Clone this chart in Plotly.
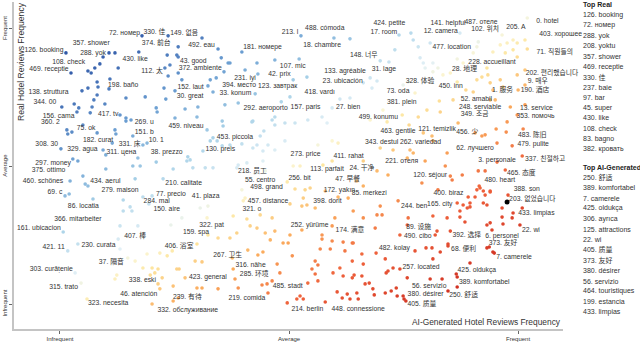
import plotly.graph_objects as go
import numpy as np

# term points (x = AI-generated frequency rank, y = real frequency rank), grouped by area
real_side_pts = [
    (0.179,0.975),(0.236,0.975),(0.013,0.913),(0.094,0.898),(0.107,0.913),(0.120,0.913),(0.172,0.916),(0.234,0.905),
    (0.255,0.905),(0.127,0.858),(0.061,0.847),(0.068,0.840),(0.076,0.858),(0.087,0.873),(0.024,0.840),(0.229,0.858),
    (0.240,0.869),(0.258,0.840),(0.236,0.829),(0.109,0.818),(0.081,0.807),(0.083,0.789),(0.061,0.785),(0.048,0.775),
    (0.107,0.782),(0.144,0.749),(0.186,0.753),(0.231,0.745),(0.227,0.785),(0.251,0.775),(0.081,0.760),(0.074,0.742),
    (0.098,0.727),(0.031,0.727),(0.041,0.713),(0.037,0.698),(0.070,0.716),(0.066,0.695),(0.004,0.716),(0.131,0.687),
    (0.210,0.713),(0.212,0.698),(0.251,0.676),(0.144,0.676),(0.155,0.669),
    (0.015,0.633),(0.017,0.618),(0.026,0.625),(0.050,0.651),(0.081,0.622),(0.120,0.633),(0.122,0.618),(0.114,0.585),
    (0.094,0.560),(0.100,0.542),(0.144,0.665),(0.159,0.611),(0.181,0.578),(0.190,0.585),(0.170,0.531),(0.159,0.502),
    (0.175,0.502),(0.210,0.516),(0.247,0.491),(0.002,0.564),(0.028,0.527),(0.039,0.520),(0.100,0.491),(0.050,0.465),
    (0.022,0.447),(0.055,0.436),(0.061,0.429),(0.164,0.455),(0.011,0.393),(0.020,0.400),(0.072,0.382),(0.138,0.378),
    (0.153,0.353),(0.157,0.338),(0.138,0.338),(0.181,0.389),(0.194,0.364),(0.225,0.455),(0.201,0.393),(0.007,0.262),
    (0.242,0.287),(0.131,0.284),(0.170,0.284),
]
upper_mid_pts = [
    (0.310,0.967),(0.345,0.927),(0.397,0.916),(0.258,0.935),(0.258,0.898),(0.352,0.895),(0.367,0.876),(0.371,0.876),
    (0.358,0.844),(0.404,0.851),(0.430,0.876),(0.469,0.887),(0.522,0.891),(0.509,0.815),(0.539,0.825),(0.432,0.836),
    (0.328,0.815),(0.341,0.822),(0.266,0.815),(0.323,0.793),(0.334,0.771),(0.426,0.764),(0.502,0.753),(0.483,0.735),
    (0.469,0.680),(0.541,0.669),(0.572,0.680),(0.594,0.713),(0.611,0.745),(0.633,0.749),(0.273,0.709),(0.301,0.716),
    (0.299,0.680),(0.360,0.724),(0.389,0.731),(0.419,0.662),(0.463,0.669),(0.526,0.975),(0.598,0.967),(0.633,0.964),
]
top_right_pts = [
    (1.020,1.040),(0.740,0.978),(0.766,0.985),(0.771,0.960),(0.873,0.985),(0.808,0.949),(0.782,0.935),(0.731,0.924),
    (0.718,0.880),(0.699,0.884),(0.786,0.895),(0.793,0.876),(0.814,0.876),(0.825,0.858),(0.797,0.858),(0.814,0.844),
    (0.677,0.822),(0.692,0.811),(0.662,0.804),(0.681,0.785),(0.749,0.796),(0.760,0.807),(0.775,0.767),(0.913,0.953),
    (0.910,0.935),(0.902,0.913),(0.954,1.004),(0.965,0.978),(0.961,0.942),(0.976,0.949),(0.998,0.949),(0.989,0.960),
    (1.015,0.960),(0.945,0.916),(0.972,0.913),(0.989,0.924),(0.998,0.898),(1.020,0.927),(0.910,0.815),(0.921,0.825),
    (0.902,0.771),(0.886,0.778),(0.867,0.807),(0.852,0.840),(0.836,0.833),(0.932,0.858),(0.934,0.833),(0.939,0.804),
    (0.961,0.815),(0.967,0.789),(0.998,0.833),(1.015,0.851),(1.015,0.796),(1.000,0.778),(0.945,0.778),(0.939,0.742),
    (0.950,0.742),(0.828,0.738),(0.801,0.705),(0.830,0.698),(0.858,0.742),(0.747,0.687),(0.782,0.680),(0.705,0.705),
    (0.983,0.716),(0.998,0.687),(0.976,0.662),(1.015,0.724),(0.867,0.891),(0.880,0.876),
]
middle_pts = [
    (0.354,0.665),(0.356,0.647),(0.421,0.665),(0.469,0.651),(0.491,0.658),(0.513,0.658),(0.583,0.658),(0.321,0.633),
    (0.334,0.604),(0.328,0.593),(0.343,0.593),(0.371,0.578),(0.397,0.582),(0.354,0.575),(0.445,0.629),(0.437,0.611),
    (0.430,0.578),(0.421,0.567),(0.454,0.578),(0.491,0.593),(0.469,0.560),(0.443,0.556),(0.312,0.556),(0.277,0.520),
    (0.284,0.524),(0.279,0.535),(0.317,0.495),(0.290,0.495),(0.334,0.495),(0.389,0.505),(0.386,0.495),(0.408,0.513),
    (0.443,0.520),(0.509,0.502),(0.524,0.502),(0.594,0.520),(0.607,0.585),(0.594,0.593),(0.563,0.578),(0.574,0.505),
    (0.448,0.484),(0.426,0.476),(0.397,0.415),(0.404,0.385),(0.400,0.375),(0.496,0.444),(0.513,0.418),(0.535,0.415),
    (0.546,0.422),(0.502,0.364),(0.528,0.356),(0.539,0.360),(0.557,0.349),(0.531,0.385),(0.579,0.411),(0.607,0.389),
    (0.629,0.385),(0.600,0.313),(0.594,0.284),(0.572,0.251),(0.528,0.269),(0.502,0.251),(0.469,0.265),(0.463,0.313),
    (0.448,0.258),(0.430,0.276),(0.437,0.324),(0.408,0.309),(0.415,0.284),(0.378,0.320),(0.323,0.356),(0.306,0.349),
    (0.266,0.313),(0.321,0.313),(0.345,0.240),(0.386,0.258),(0.323,0.251),
]
right_mid_pts = [
    (0.677,0.669),(0.714,0.662),(0.762,0.651),(0.793,0.622),(0.812,0.611),(0.814,0.593),(0.869,0.658),(0.906,0.622),
    (0.921,0.611),(0.928,0.615),(0.952,0.636),(0.974,0.625),(1.011,0.636),(0.954,0.585),(0.987,0.575),(0.845,0.549),
    (0.841,0.502),(0.797,0.520),(0.758,0.531),(0.699,0.567),(0.727,0.560),(0.771,0.549),(0.764,0.560),(0.662,0.520),
    (0.692,0.484),(0.716,0.469),(0.662,0.429),(0.648,0.447),(0.852,0.465),(0.856,0.451),(0.878,0.469),(0.790,0.440),
    (0.825,0.415),(0.913,0.484),(0.928,0.484),(0.972,0.487),(1.009,0.538),(0.954,0.516),(0.978,0.396),(0.910,0.415),
    (0.917,0.422),(0.924,0.411),(0.891,0.389),(0.895,0.367),(0.880,0.360),(0.867,0.367),(0.928,0.396),(0.939,0.411),
    (0.932,0.360),(0.965,0.349),(1.009,0.349),(0.738,0.375),(0.699,0.356),(0.692,0.324),(0.703,0.324),(0.760,0.313),
    (0.758,0.287),(0.814,0.320),(0.845,0.313),(0.873,0.338),(0.895,0.353),(0.965,0.316),(0.987,0.313),(0.989,0.331),
    (0.967,0.291),(0.932,0.287),(0.943,0.269),(0.823,0.265),(0.819,0.251),(0.852,0.265),(0.742,0.251),(0.662,0.313),
    (0.640,0.338),(0.688,0.276),
    (0.939,0.295),(1.004,0.287),(0.867,0.098),(0.847,0.218),(0.945,0.189),(0.937,0.207),(0.915,0.429),(0.939,0.407),
    (0.906,0.389),(0.889,0.349),(0.924,0.367),(0.884,0.298),(0.873,0.316),
]
low_pts = [
    (0.017,0.193),(0.039,0.218),(0.127,0.236),(0.131,0.200),(0.033,0.113),(0.046,0.076),(0.059,0.018),(0.120,0.091),
    (0.124,0.105),(0.148,0.167),(0.164,0.156),(0.190,0.182),(0.218,0.185),(0.234,0.175),(0.181,0.131),(0.201,0.131),
    (0.207,0.113),(0.214,0.127),(0.197,0.105),(0.223,0.095),(0.214,0.073),(0.218,0.055),(0.201,0.000),(0.247,0.011),
    (0.247,0.065),(0.255,0.127),(0.245,0.193),
    (0.299,0.218),(0.371,0.240),(0.459,0.233),(0.487,0.222),(0.498,0.222),(0.572,0.236),(0.594,0.229),(0.618,0.225),
    (0.638,0.222),(0.568,0.200),(0.590,0.200),(0.622,0.193),(0.410,0.196),(0.443,0.189),(0.432,0.178),(0.376,0.167),
    (0.295,0.156),(0.310,0.153),(0.260,0.127),(0.378,0.127),(0.382,0.091),(0.474,0.145),(0.507,0.175),(0.557,0.156),
    (0.563,0.142),(0.611,0.131),(0.638,0.156),(0.596,0.113),(0.550,0.127),(0.557,0.109),(0.563,0.084),(0.618,0.102),
    (0.638,0.095),(0.480,0.113),(0.441,0.069),(0.452,0.073),(0.463,0.084),(0.454,0.040),(0.389,0.058),(0.299,0.058),
    (0.310,0.058),(0.345,0.055),(0.273,0.095),(0.258,0.022),(0.524,0.029),(0.531,0.018),(0.517,0.018),(0.496,0.004),
    (0.541,0.076),(0.579,0.007),(0.605,0.044),(0.616,0.022),(0.627,0.036),(0.633,0.018),
    (0.640,0.222),(0.659,0.182),(0.690,0.185),(0.710,0.164),(0.775,0.193),(0.799,0.204),(0.812,0.204),(0.830,0.189),
    (0.847,0.211),(0.932,0.204),(0.948,0.185),(0.895,0.149),(0.662,0.145),(0.642,0.105),(0.659,0.102),(0.666,0.073),
    (0.675,0.076),(0.683,0.055),(0.648,0.040),(0.651,0.018),(0.686,0.033),(0.710,0.040),(0.723,0.047),(0.734,0.058),
    (0.742,0.127),(0.727,0.131),(0.716,0.120),(0.712,0.113),(0.758,0.095),(0.814,0.164),(0.808,0.091),(0.834,0.091),
    (0.865,0.109),(0.867,0.062),(0.847,0.047),(0.736,0.029),(0.749,0.029),(0.751,0.018),(0.755,0.011),
]
highlight_pt = (0.976, 0.371)  # searched term, drawn black

# labelled terms (text, x, y)
labels_real = [
    ("72. номер",0.141,0.985),("330. 佳",0.206,0.989),("149. 없음",0.271,0.985),("374. 前台",0.210,0.949),
    ("126. booking",-0.035,0.924),("357. shower",0.068,0.949),("288. yok",0.072,0.913),("430. like",0.164,0.891),
    ("108. check",0.019,0.880),("469. receptie",-0.024,0.855),("112. 太",0.201,0.847),("138. struttura",-0.025,0.771),
    ("198. baño",0.138,0.796),("344. 00",-0.033,0.735),("156. cama",-0.003,0.684),("417. tv",0.105,0.691),
    ("360. 2",-0.021,0.662),("269. u",0.184,0.662),("75. ok",0.057,0.640),("182. curat",0.083,0.596),
    ("151. b",0.184,0.625),("308. 30",-0.029,0.582),("329. agua",0.049,0.564),("331. 床",0.152,0.582),
    ("10. 1",0.210,0.596),("311. цена",0.134,0.553),("38. prezzo",0.233,0.553),("297. money",-0.015,0.513),
    ("375. ottimo",-0.025,0.487),("460. schönes",-0.037,0.447),("434. aerul",0.099,0.447),("279. maison",0.131,0.415),
    ("69. c",-0.011,0.407),("284. mal",0.211,0.375),("86. locatia",0.051,0.356),("150. aire",0.233,0.345),
    ("366. mitarbeiter",0.039,0.309),("161. ubicacion",-0.046,0.276),("407. 棒",0.164,0.247),
]
labels_upper = [
    ("492. eau",0.309,0.942),("181. номере",0.442,0.935),("213. l",0.502,0.989),("488. cómoda",0.578,1.004),
    ("18. chambre",0.572,0.942),("43. good",0.291,0.884),("372. ambiente",0.306,0.858),("107. mic",0.508,0.865),
    ("133. agréable",0.622,0.847),("231. iyi",0.404,0.822),("42. prix",0.479,0.836),("152. laut",0.285,0.789),
    ("394. место",0.391,0.796),("123. завтрак",0.475,0.793),("30. great",0.284,0.756),("33. konum",0.383,0.767),
    ("23. ubicación",0.617,0.811),("418. vardı",0.567,0.771),("292. aeroporto",0.449,0.713),("157. paris",0.536,0.716),
    ("27. bien",0.629,0.716),("148. 너무",0.663,0.905),("424. petite",0.719,1.022),("17. room",0.707,0.989),
    ("141. helpful",0.847,1.022),("487. отеле",0.919,1.025),("12. camera",0.831,0.993),("102. 위치",0.928,1.000),
    ("205. A",0.995,1.007),("477. location",0.855,0.935),("228. accueillant",0.943,0.880),("28. 地理",0.883,0.855),
    ("31. lage",0.707,0.855),("328. 体验",0.786,0.811),("450. inn",0.853,0.793),("73. oda",0.738,0.775),
    ("1. 服务",0.966,0.778),("381. plein",0.746,0.735),("52. amabil",0.909,0.745),("248. serviable",0.917,0.716),
    ("349. 조금",0.905,0.691),("499. konumu",0.695,0.680),("202. 편리했습니다",1.074,0.840),("9. 매우",1.043,0.811),
    ("190. 酒店",1.037,0.778),("13. service",1.040,0.713),("353. помочь",1.038,0.684),("0. hotel",1.064,1.029),
    ("403. хорошее",1.093,0.982),("71. 직원들의",1.080,0.916),
]
labels_mid = [
    ("459. niveau",0.275,0.647),("453. piccola",0.382,0.607),("130. preis",0.350,0.564),("273. price",0.536,0.545),
    ("411. rahat",0.630,0.538),("113. parfait",0.583,0.491),("218. 员工",0.420,0.484),("55. centro",0.437,0.451),
    ("256. bit",0.523,0.458),("47. 早餐",0.628,0.455),("498. grand",0.451,0.425),("172. yakın",0.610,0.415),
    ("457. distance",0.454,0.375),("398. dorit",0.584,0.375),("321. o",0.419,0.345),("210. calitate",0.270,0.440),
    ("77. precio",0.242,0.400),("41. plaza",0.318,0.393),("322. pat",0.331,0.287),("159. spa",0.297,0.262),
    ("252. yürüme",0.545,0.287),("463. gentile",0.738,0.629),("121. temizlik",0.823,0.636),("456. 少",0.889,0.625),
    ("483. 陈旧",1.031,0.615),("343. destul",0.702,0.589),("262. variedad",0.787,0.589),("62. лучшего",0.906,0.567),
    ("479. pulite",1.033,0.582),("3. personale",0.954,0.524),("337. 친절하고",1.059,0.527),("221. отеля",0.746,0.520),
    ("24. 干净",0.659,0.495),("120. séjour",0.808,0.469),("465. 态度",1.007,0.476),("480. heart",0.960,0.451),
    ("388. son",1.019,0.418),("203. 없었습니다",1.031,0.382),("85. merkezi",0.675,0.404),("400. biraz",0.848,0.404),
    ("244. ben",0.773,0.356),("165. city",0.829,0.364),("433. limpias",1.040,0.331),("22. wi",1.028,0.269),
    ("89. 设施",0.783,0.280),("490. cibo",0.781,0.247),("174. 满意",0.633,0.269),
]
labels_low = [
    ("421. 11",-0.014,0.207),("230. curata",0.084,0.215),("406. 浴室",0.260,0.211),("37. 隔音",0.112,0.153),
    ("303. curățenie",-0.019,0.127),("338. eski",0.180,0.087),("315. trato",0.008,0.062),("46. atención",0.172,0.036),
    ("323. necesita",0.105,0.004),("239. 有待",0.278,0.025),("332. обслуживание",0.279,-0.022),("267. 卫生",0.366,0.178),
    ("316. nähe",0.416,0.142),("285. 环境",0.424,0.109),("423. general",0.323,0.098),("485. stadt",0.497,0.065),
    ("219. comida",0.408,0.022),("214. berlin",0.540,-0.018),("448. connessione",0.651,-0.018),("482. kolay",0.730,0.204),
    ("257. located",0.788,0.135),("56. servizio",0.806,0.065),("380. désirer",0.798,0.036),("250. 舒适",0.881,0.033),
    ("405. 质量",0.790,0.000),("392. 选择",0.888,0.251),("6. personel",0.965,0.247),("68. 便利",0.881,0.200),
    ("373. 友好",0.967,0.222),("7. camerele",0.991,0.171),("425. oldukça",0.910,0.124),("389. komfortabel",0.926,0.080),
]

top_real = ["126. booking", "72. номер", "288. yok", "208. yoktu", "357. shower", "469. receptie", "330. 佳",
            "237. baie", "97. bar", "45. super", "430. like", "108. check", "83. bagno", "382. кровать"]
top_ai = ["250. 舒适", "389. komfortabel", "7. camerele", "425. oldukça", "306. ayrıca", "125. attractions", "22. wi",
          "405. 质量", "373. 友好", "380. désirer", "56. servizio", "464. touristiques", "199. estancia", "433. limpias"]

tick_vals = [0, 0.5, 1]
tick_text = ["Infrequent", "Average", "Frequent"]

FONT = "Liberation Sans, Arial, Noto Sans CJK SC, Noto Sans CJK KR, sans-serif"

pts = real_side_pts + upper_mid_pts + top_right_pts + middle_pts + right_mid_pts + low_pts
px = np.array([p[0] for p in pts])
py = np.array([p[1] for p in pts])
score = py - px  # real-vs-AI lean, used for colour

scale = [[0, '#cc2a1e'], [0.2, '#ee5f3a'], [0.35, '#fbab5c'], [0.46, '#fde6a0'], [0.5, '#fbf5d2'],
         [0.54, '#e2f0f6'], [0.66, '#a9d2e8'], [0.8, '#6c9fd2'], [1, '#2f57a7']]

fig = go.Figure()
fig.add_trace(go.Scatter(
    x=px, y=py, mode="markers",
    marker=dict(size=3.6, color=score, colorscale=scale, cmin=-0.85, cmax=0.85, line=dict(width=0)),
    hoverinfo="skip", showlegend=False))
fig.add_trace(go.Scatter(
    x=[highlight_pt[0]], y=[highlight_pt[1]], mode="markers",
    marker=dict(size=5, color="black"), hoverinfo="skip", showlegend=False))

labels = labels_real + labels_upper + labels_mid + labels_low
fig.add_trace(go.Scatter(
    x=[l[1] for l in labels], y=[l[2] for l in labels], text=[l[0] for l in labels],
    mode="text", textposition="middle center",
    textfont=dict(size=6.8, color="#333", family=FONT),
    cliponaxis=False, hoverinfo="skip", showlegend=False))

# plot area: x 14..563 px, y 2..329 px
def py_to_paper(p):
    return (329 - p) / 327.0

panel_x = (581 - 14) / 549.0
fig.add_annotation(x=panel_x, y=py_to_paper(5), xref="paper", yref="paper", xanchor="left", yanchor="middle",
                   text="<b>Top Real</b>", showarrow=False, font=dict(size=7, color="#222", family=FONT))
for i, t in enumerate(top_real):
    fig.add_annotation(x=panel_x, y=py_to_paper(15 + 10.3 * i), xref="paper", yref="paper",
                       xanchor="left", yanchor="middle", text=t, showarrow=False,
                       font=dict(size=7, color="#333", family=FONT))
fig.add_annotation(x=panel_x, y=py_to_paper(168), xref="paper", yref="paper", xanchor="left", yanchor="middle",
                   text="<b>Top AI-Generated</b>", showarrow=False, font=dict(size=7, color="#222", family=FONT))
for i, t in enumerate(top_ai):
    fig.add_annotation(x=panel_x, y=py_to_paper(177.3 + 10.38 * i), xref="paper", yref="paper",
                       xanchor="left", yanchor="middle", text=t, showarrow=False,
                       font=dict(size=7, color="#333", family=FONT))

# axis titles drawn inside the plot, as in the original
fig.add_annotation(x=(21 - 14) / 549.0, y=py_to_paper(62), xref="paper", yref="paper", textangle=-90,
                   xanchor="center", yanchor="middle",
                   text="Real Hotel Reviews Frequency", showarrow=False,
                   font=dict(size=8.6, color="#333", family=FONT))
fig.add_annotation(x=1.0, y=py_to_paper(322), xref="paper", yref="paper", xanchor="right", yanchor="middle",
                   text="AI-Generated Hotel Reviews Frequency", showarrow=False,
                   font=dict(size=8.4, color="#333", family=FONT))

axis_common = dict(showgrid=False, zeroline=False, showline=True, linecolor="#c4c4c4",
                   ticks="outside", ticklen=3, tickcolor="#666", tickvals=tick_vals, ticktext=tick_text,
                   tickfont=dict(size=6, color="#333", family=FONT))
fig.update_xaxes(range=[-0.1004, 1.098], linewidth=2, **axis_common)
fig.update_yaxes(range=[-0.0909, 1.098], linewidth=1.5, tickangle=-90, **axis_common)

fig.update_layout(
    width=640, height=357,
    margin=dict(l=14, r=77, t=2, b=28, autoexpand=False),
    plot_bgcolor="white", paper_bgcolor="white",
    showlegend=False,
)

# drop the browser's default 8px body margin so the figure sits at the page corner
fig.write_html("out.html", config={"displayModeBar": False},
               post_script="document.body.style.margin='0px';")
